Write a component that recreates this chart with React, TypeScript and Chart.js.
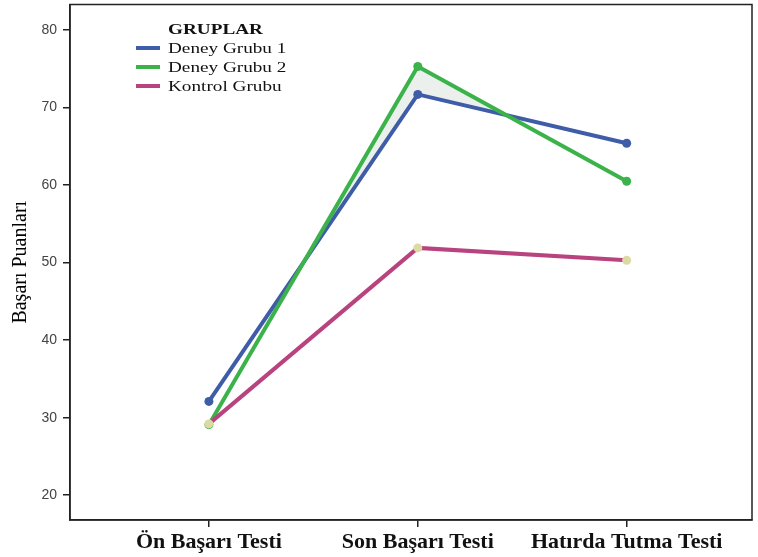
import React, { useEffect, useRef } from "react";
import { Chart, registerables } from "chart.js";

Chart.register(...registerables);

const categories = ["Ön Başarı Testi", "Son Başarı Testi", "Hatırda Tutma Testi"];
const seriesNames = ["Deney Grubu 1", "Deney Grubu 2", "Kontrol Grubu"];
const deney1 = [32.1, 71.7, 65.4];
const deney2 = [29.1, 75.3, 60.5];
const kontrol = [29.2, 51.9, 50.3];
const yTicks = [20, 30, 40, 50, 60, 70, 80];
const legendTitle = "GRUPLAR";
const yTitle = "Başarı Puanları";

const colors = ["#3f5ca8", "#3bb34a", "#b8437f"];
const pointFills = ["#3f5ca8", "#3bb34a", "#ddd9a2"];

const framePlugin = {
  id: "frame",
  afterDraw(chart: any) {
    const { ctx, chartArea } = chart;
    ctx.save();
    ctx.strokeStyle = "#222";
    ctx.lineWidth = 1.5;
    ctx.strokeRect(chartArea.left, chartArea.top, chartArea.right - chartArea.left, chartArea.bottom - chartArea.top);
    // legend
    const lx = chartArea.left + 66;
    const tx = chartArea.left + 98;
    const sx = 1.28;
    ctx.fillStyle = "#111";
    ctx.textBaseline = "middle";
    ctx.textAlign = "left";
    ctx.save();
    ctx.translate(tx, 30);
    ctx.scale(sx, 1);
    ctx.font = "bold 15px 'Liberation Serif'";
    ctx.fillText(legendTitle, 0, 0);
    ctx.restore();
    chart.data.datasets.forEach((ds: any, i: number) => {
      const y = 48 + i * 19;
      ctx.strokeStyle = ds.borderColor;
      ctx.lineWidth = 4;
      ctx.beginPath();
      ctx.moveTo(lx, y);
      ctx.lineTo(lx + 24, y);
      ctx.stroke();
      ctx.save();
      ctx.translate(tx, y + 1);
      ctx.scale(sx, 1);
      ctx.font = "15px 'Liberation Serif'";
      ctx.fillStyle = "#111";
      ctx.fillText(ds.label, 0, 0);
      ctx.restore();
    });
    ctx.restore();
  },
};

export default function App() {
  const ref = useRef<HTMLCanvasElement | null>(null);
  useEffect(() => {
    if (!ref.current) return;
    const series = [deney1, deney2, kontrol];
    const chart = new Chart(ref.current, {
      type: "line",
      data: {
        datasets: series.map((arr, i) => ({
          label: seriesNames[i],
          data: arr.map((v, j) => ({ x: j, y: v })),
          borderColor: colors[i],
          backgroundColor: colors[i],
          borderWidth: 4,
          tension: 0,
          pointRadius: 4.5,
          pointBorderWidth: 0,
          pointBackgroundColor: pointFills[i],
          order: i === 0 ? 3 : i === 1 ? 2 : 1,
          fill: i === 1 ? { target: 0, above: "rgba(236,240,237,1)", below: "rgba(0,0,0,0)" } : false,
        })) as any,
      },
      options: {
        animation: false,
        responsive: true,
        maintainAspectRatio: false,
        layout: { padding: { top: 4, right: 6, left: 0, bottom: 0 } },
        plugins: {
          legend: { display: false },
          tooltip: { enabled: false },
          filler: { drawTime: "beforeDatasetsDraw" },
        } as any,
        scales: {
          x: {
            type: "linear",
            min: -0.665,
            max: 2.6,
            afterBuildTicks: (s: any) => {
              s.ticks = categories.map((_, i) => ({ value: i }));
            },
            afterFit: (s: any) => {
              s.height = 37;
              s.paddingLeft = 0;
              s.paddingRight = 0;
            },
            ticks: {
              callback: (v: any) => categories[v as number] ?? "",
              font: { family: "'Liberation Serif'", size: 22, weight: "bold" },
              color: "#111",
              padding: 2,
              maxRotation: 0,
              autoSkip: false,
            },
            grid: { drawOnChartArea: false, drawTicks: true, tickLength: 7, color: "#222", lineWidth: 1.5 },
            border: { display: true, color: "#222", width: 1.5 },
          },
          y: {
            type: "linear",
            min: 16.8,
            max: 83.3,
            afterBuildTicks: (s: any) => {
              s.ticks = yTicks.map((v) => ({ value: v }));
            },
            afterFit: (s: any) => {
              s.width = 70;
              s.paddingTop = 0;
              s.paddingBottom = 0;
            },
            ticks: {
              font: { family: "'Liberation Sans'", size: 14 },
              color: "#444",
              padding: 6,
            },
            title: {
              display: true,
              text: yTitle,
              font: { family: "'Liberation Serif'", size: 20 },
              color: "#000",
              padding: { top: 9, bottom: 0 },
            },
            grid: { drawOnChartArea: false, drawTicks: true, tickLength: 7, color: "#222", lineWidth: 1.5 },
            border: { display: true, color: "#222", width: 1.5 },
          },
        },
      },
      plugins: [framePlugin],
    });
    return () => chart.destroy();
  }, []);
  return (
    <div style={{ position: "absolute", left: 0, top: 0, width: 758, height: 557, background: "#fff" }}>
      <canvas ref={ref} />
    </div>
  );
}
